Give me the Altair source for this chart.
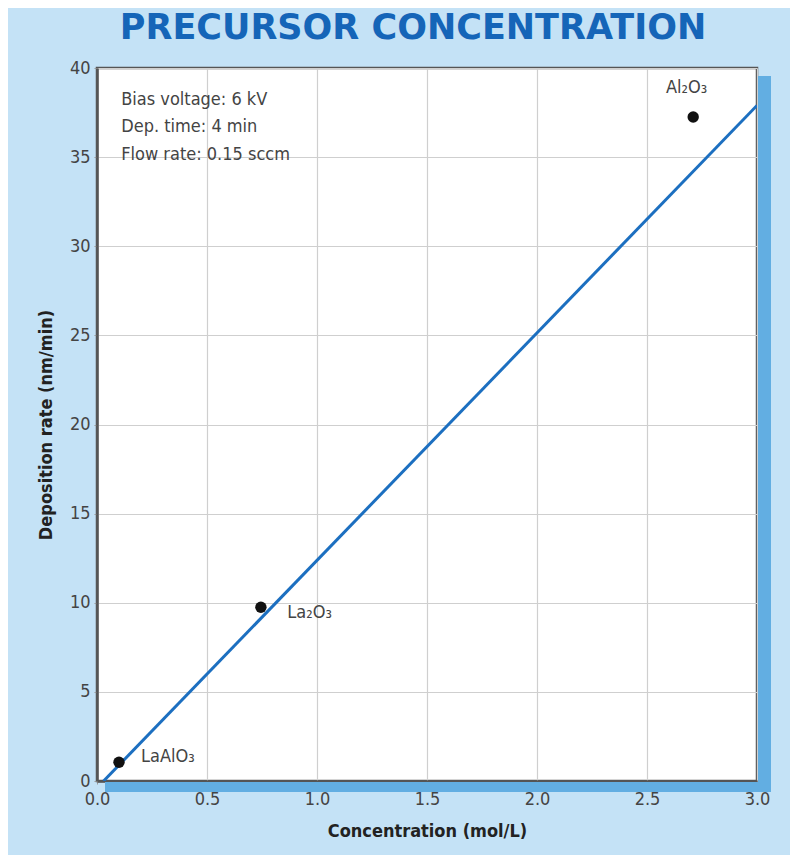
import altair as alt
import pandas as pd

# Data
materials = ["LaAlO₃", "La₂O₃", "Al₂O₃"]
conc = [0.10, 0.745, 2.71]
rate = [1.05, 9.75, 37.25]

fit_x = [0.03, 3.0]
fit_y = [0.0, 37.9]

label_x = [0.20, 0.865, 2.68]
label_y = [1.35, 9.4, 38.9]
label_align = ["left", "left", "center"]

note_lines = ["Bias voltage: 6 kV", "Dep. time: 4 min", "Flow rate: 0.15 sccm"]
note_x = [0.11, 0.11, 0.11]
note_y = [38.2, 36.7, 35.1]

x_ticks = [0.0, 0.5, 1.0, 1.5, 2.0, 2.5, 3.0]
y_ticks = [0, 5, 10, 15, 20, 25, 30, 35, 40]

FONT = "Liberation Sans Narrow, DejaVu Sans Condensed, Roboto, sans-serif"
W, H = 660, 713

pts = pd.DataFrame({"x": conc, "y": rate})
fit = pd.DataFrame({"x": fit_x, "y": fit_y})
labels = pd.DataFrame({"x": label_x, "y": label_y, "t": materials, "a": label_align})
notes = pd.DataFrame({"x": note_x, "y": note_y, "t": note_lines})

xs = alt.Scale(domain=[0, 3], nice=False, zero=False)
ys = alt.Scale(domain=[0, 40], nice=False, zero=False)

xax = alt.Axis(values=x_ticks, format=".1f", title="Concentration (mol/L)",
               labelFont=FONT, labelFontSize=18, labelColor="#444", labelFlush=False,
               titleFont=FONT, titleFontSize=18, titleFontWeight="bold", titleColor="#222",
               grid=True, gridColor="#cfcfcf", gridWidth=1.2,
               domainColor="#555", domainWidth=2.5, tickColor="#999", tickSize=3,
               labelPadding=6, titlePadding=14)
yax = alt.Axis(values=y_ticks, title="Deposition rate (nm/min)",
               labelFont=FONT, labelFontSize=18, labelColor="#444", labelFlush=False,
               titleFont=FONT, titleFontSize=18, titleFontWeight="bold", titleColor="#222",
               grid=True, gridColor="#cfcfcf", gridWidth=1.2,
               domainColor="#555", domainWidth=2.5, tickColor="#999", tickSize=3,
               labelPadding=4, titlePadding=14)

base_enc = dict(x=alt.X("x:Q", scale=xs, axis=xax), y=alt.Y("y:Q", scale=ys, axis=yax))

shadow_src = pd.DataFrame({"k": [0]})
shadow_right = alt.Chart(shadow_src).mark_rect(color="#62aee2", clip=False).encode(
    x=alt.value(W + 1), x2=alt.value(W + 14), y=alt.value(8), y2=alt.value(H + 11))
shadow_bottom = alt.Chart(shadow_src).mark_rect(color="#62aee2", clip=False).encode(
    x=alt.value(8), x2=alt.value(W + 14), y=alt.value(H + 1), y2=alt.value(H + 11))

line = alt.Chart(fit).mark_line(color="#1c6fc0", strokeWidth=3, clip=True).encode(**base_enc)
points = alt.Chart(pts).mark_point(filled=True, color="#111", size=130, opacity=1).encode(
    x=alt.X("x:Q", scale=xs), y=alt.Y("y:Q", scale=ys))
lab_left = alt.Chart(labels[labels.a == "left"]).mark_text(
    font=FONT, fontSize=18, color="#444", align="left", baseline="middle").encode(
    x=alt.X("x:Q", scale=xs), y=alt.Y("y:Q", scale=ys), text="t:N")
lab_center = alt.Chart(labels[labels.a == "center"]).mark_text(
    font=FONT, fontSize=18, color="#444", align="center", baseline="middle").encode(
    x=alt.X("x:Q", scale=xs), y=alt.Y("y:Q", scale=ys), text="t:N")
note = alt.Chart(notes).mark_text(
    font=FONT, fontSize=18, color="#444", align="left", baseline="middle").encode(
    x=alt.X("x:Q", scale=xs), y=alt.Y("y:Q", scale=ys), text="t:N")

chart = alt.layer(shadow_right, shadow_bottom, line, points, lab_left, lab_center, note).properties(
    width=W, height=H,
    background="#c4e2f6",
    padding={"left": 89, "top": 60, "right": 33, "bottom": 74},
    autosize=alt.AutoSizeParams(type="none"),
    title=alt.TitleParams("PRECURSOR CONCENTRATION", font="DejaVu Sans", fontSize=35,
                          fontWeight="bold", color="#1565b8", anchor="middle",
                          offset=13, dx=-14),
).configure_view(fill="white", stroke="#555", strokeWidth=2.5)

chart.save("out.html", embed_options={"renderer": "svg", "actions": False})
